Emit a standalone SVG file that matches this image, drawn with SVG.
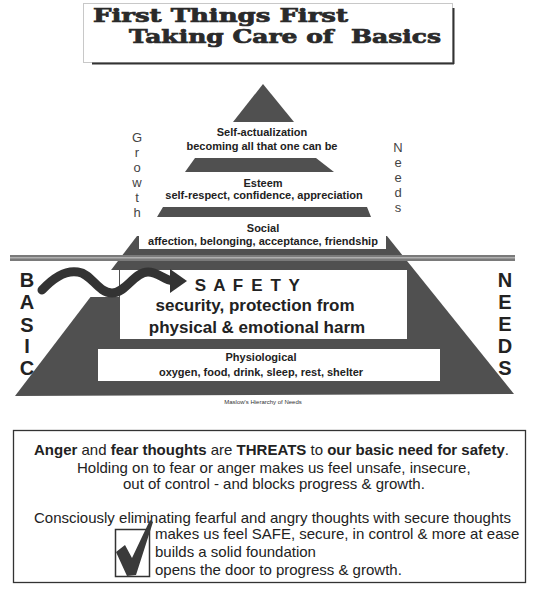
<svg xmlns="http://www.w3.org/2000/svg" width="540" height="590" viewBox="0 0 540 590">
<style>
.dk{fill:#505050}
.lbl{font-family:"Liberation Sans",Arial,sans-serif;font-weight:bold;font-size:11px;fill:#222;text-anchor:middle}
.big{font-family:"Liberation Sans",Arial,sans-serif;font-weight:bold;font-size:20px;fill:#222;text-anchor:middle}
.thin{font-family:"Liberation Sans",Arial,sans-serif;font-size:13px;fill:#444;text-anchor:middle}
.body{font-family:"Liberation Sans",Arial,sans-serif;font-size:15px;fill:#222}
.b{font-weight:bold}
.ttl{font-family:"DejaVu Serif","Liberation Serif",serif;font-weight:bold;font-size:18px;fill:#2a2a2a;stroke:#2a2a2a;stroke-width:0.7}
</style>
<rect width="540" height="590" fill="#fff"/>
<g id="title">
<rect x="83.5" y="3.5" width="369" height="59" fill="#fff" stroke="#c8c8c8"/>
<path d="M453.5,8 V64 M92,63.5 H454" stroke="#333" stroke-width="2" fill="none"/>
<text class="ttl" x="93" y="22" textLength="255" lengthAdjust="spacingAndGlyphs">First Things First</text>
<text class="ttl" x="129" y="43" textLength="312" lengthAdjust="spacingAndGlyphs" xml:space="preserve">Taking Care of  Basics</text>
</g>
<g id="self-actualization">
<polygon class="dk" points="263,84 294,122 233,122"/>
<text class="lbl" x="262" y="136">Self-actualization</text>
<text class="lbl" x="262" y="150">becoming all that one can be</text>
</g>
<g id="esteem">
<polygon class="dk" points="195,158 316,158 334,172 185,172"/>
<text class="lbl" x="263" y="187">Esteem</text>
<text class="lbl" x="264" y="199">self-respect, confidence, appreciation</text>
</g>
<g id="social">
<polygon class="dk" points="163,207 367,207 371,217 157,217"/>
<polygon class="dk" points="137,236 387,236 514,394 15,396"/>
<rect x="139" y="222" width="247" height="27" fill="#fff"/>
<text class="lbl" x="263" y="232">Social</text>
<text class="lbl" x="263" y="245">affection, belonging, acceptance, friendship</text>
</g>
<g id="divider">
<rect x="10" y="255" width="505" height="6" fill="#7a7a7a"/>
<line x1="10" y1="257.8" x2="515" y2="257.8" stroke="#b0b0b0" stroke-width="1.5"/>
</g>
<g id="safety">
<rect x="0" y="270" width="119" height="27" fill="#fff"/>
<rect x="120" y="270" width="287" height="69" fill="#fff"/>
<text class="lbl" x="248" y="291" style="font-size:17px;letter-spacing:1.6px" xml:space="preserve">S A F E T Y</text>
<text class="lbl" x="255" y="311" style="font-size:17px">security, protection from</text>
<text class="lbl" x="257" y="333" style="font-size:17px">physical &amp; emotional harm</text>
</g>
<g id="physiological">
<rect x="98" y="349" width="342" height="32" fill="#fff"/>
<text class="lbl" x="261" y="361">Physiological</text>
<text class="lbl" x="261" y="376">oxygen, food, drink, sleep, rest, shelter</text>
</g>
<text x="263" y="404" style="font-family:'Liberation Sans',Arial,sans-serif;font-size:6px;fill:#333;text-anchor:middle">Maslow's  Hierarchy of Needs</text>
<g id="side-labels">
<text class="thin" x="137"><tspan x="137" y="142">G</tspan><tspan x="137" y="157">r</tspan><tspan x="137" y="172">o</tspan><tspan x="137" y="187">w</tspan><tspan x="137" y="202">t</tspan><tspan x="137" y="217">h</tspan></text>
<text class="thin" x="398"><tspan x="398" y="152">N</tspan><tspan x="398" y="167">e</tspan><tspan x="398" y="182">e</tspan><tspan x="398" y="197">d</tspan><tspan x="398" y="212">s</tspan></text>
<text class="big" x="27"><tspan x="27" y="287">B</tspan><tspan x="27" y="309">A</tspan><tspan x="27" y="332">S</tspan><tspan x="27" y="353">I</tspan><tspan x="27" y="375">C</tspan></text>
<text class="big" x="505"><tspan x="505" y="287">N</tspan><tspan x="505" y="309">E</tspan><tspan x="505" y="331">E</tspan><tspan x="505" y="353">D</tspan><tspan x="505" y="375">S</tspan></text>
</g>
<g id="connectors">
<path d="M42,290 C54,277 66,270 78,272 C92,274 98,293 112,293 C126,293 134,272 148,272 C158,272 164,280 173,281" fill="none" stroke="#333" stroke-width="9" stroke-linecap="round"/>
<polygon points="170,269 187,281 170,293" fill="#333"/>
</g>
<g id="message">
<rect x="13.5" y="430.5" width="512" height="152" fill="none" stroke="#333" stroke-width="1.3"/>
<text class="body" x="34" y="455"><tspan class="b">Anger</tspan> and <tspan class="b">fear thoughts</tspan> are <tspan class="b">THREATS</tspan>  to <tspan class="b">our basic need for safety</tspan>.</text>
<text class="body" x="77" y="473">Holding on to fear or anger makes us feel unsafe, insecure,</text>
<text class="body" x="123" y="489">out of control - and blocks progress &amp; growth.</text>
<text class="body" x="34" y="523">Consciously eliminating fearful and angry thoughts with secure thoughts</text>
<text class="body" x="155" y="539">makes us feel SAFE, secure, in control &amp; more at ease</text>
<text class="body" x="155" y="557">builds a solid foundation</text>
<text class="body" x="155" y="575">opens the door to progress &amp; growth.</text>
<rect x="115.5" y="529.5" width="34" height="47" fill="#fff" stroke="#333" stroke-width="1.5"/>
<polygon points="116,552 125,545 132,558 150,520 153,522 136,575 127,576" fill="#3a3a3a"/>
</g>
</svg>
